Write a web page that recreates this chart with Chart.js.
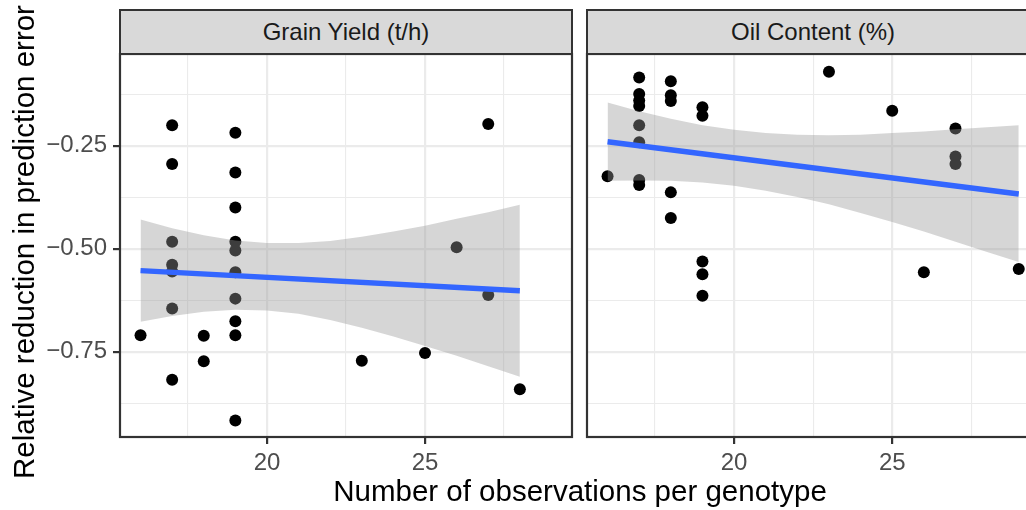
<!DOCTYPE html>
<html>
<head>
<meta charset="utf-8">
<script src="https://cdn.jsdelivr.net/npm/chart.js@4.4.0/dist/chart.umd.min.js"></script>
<style>
    html, body { margin: 0; padding: 0; background: #fff; overflow: hidden; }
    #wrap { position: relative; width: 1026px; height: 510px; overflow: hidden; font-family: 'Liberation Sans', Arial, sans-serif; }
    canvas { position: absolute; top: 0; }
    .strip { position: absolute; top: 9px; height: 46px; box-sizing: border-box; background: #d9d9d9; border: 2.2px solid #333; color: #1a1a1a; font-size: 24px; text-align: center; line-height: 41px; white-space: nowrap; }
    #xtitle { position: absolute; left: 0; width: 1160px; top: 474px; font-size: 29.5px; line-height: 34px; text-align: center; color: #000; white-space: nowrap; }
    #ytitle { position: absolute; left: 24px; top: 242px; width: 600px; margin-left: -300px; margin-top: -17px; height: 34px; line-height: 34px; font-size: 29.5px; text-align: center; color: #000; white-space: nowrap; transform: rotate(-90deg); }
</style>
</head>
<body>
<div id="wrap">
    <canvas id="grainChart" width="580" height="480" style="left:0"></canvas>
    <canvas id="oilChart" width="470" height="480" style="left:580px"></canvas>
    <div class="strip" id="strip0" style="left:119px; width:454px"></div>
    <div class="strip" id="strip1" style="left:586px; width:454px"></div>
    <div id="xtitle"></div>
    <div id="ytitle"></div>
</div>
<script>
// ============================================================================
// Data
// ============================================================================

const panelTitles = ['Grain Yield (t/h)', 'Oil Content (%)'];
const xTitle = 'Number of observations per genotype';
const yTitle = 'Relative reduction in prediction error';

// axis ticks
const xMajor = [20, 25];
const xMinor = [17.5, 22.5, 27.5];
const xTickLabels = ['20', '25'];
const yMajor = [-0.75, -0.5, -0.25];
const yMinor = [-0.875, -0.625, -0.375, -0.125];
const yTickLabels = ['\u22120.75', '\u22120.50', '\u22120.25'];

// Grain yield panel
const grainX = [17, 17, 17, 17, 17, 17, 17,
                19, 19, 19, 19, 19, 19, 19, 19, 19, 19,
                27, 27, 26, 16, 18, 18, 23, 25, 28];
const grainY = [-0.200, -0.294, -0.483, -0.539, -0.555, -0.645, -0.818,
                -0.218, -0.315, -0.400, -0.483, -0.504, -0.557, -0.621, -0.676, -0.710, -0.917,
                -0.197, -0.612, -0.496, -0.710, -0.711, -0.773, -0.772, -0.753, -0.841];
const grainBandX = [16, 17, 18, 19, 20, 21, 22, 23, 24, 25, 26, 27, 28];
const grainUpper = [-0.429, -0.450, -0.467, -0.480, -0.486, -0.486, -0.481, -0.471, -0.458, -0.444, -0.427, -0.411, -0.393];
const grainLower = [-0.677, -0.663, -0.653, -0.648, -0.650, -0.658, -0.673, -0.692, -0.713, -0.736, -0.760, -0.785, -0.811];
const grainFitX = [16, 28];
const grainFitY = [-0.553, -0.602];

// Oil content panel
const oilX = [16,
              17, 17, 17, 17, 17, 17, 17, 17,
              18, 18, 18, 18, 18,
              19, 19, 19, 19, 19,
              23, 25, 26, 27, 27, 27, 29];
const oilY = [-0.324,
              -0.084, -0.124, -0.140, -0.153, -0.200, -0.241, -0.333, -0.345,
              -0.093, -0.127, -0.141, -0.363, -0.425,
              -0.156, -0.177, -0.531, -0.562, -0.614,
              -0.070, -0.165, -0.557, -0.208, -0.276, -0.294, -0.549];
const oilBandX = [16, 17, 18, 19, 20, 21, 22, 23, 24, 25, 26, 27, 28, 29];
const oilUpper = [-0.145, -0.166, -0.184, -0.200, -0.211, -0.219, -0.223, -0.224, -0.223, -0.219, -0.215, -0.210, -0.205, -0.200];
const oilLower = [-0.335, -0.334, -0.335, -0.339, -0.347, -0.359, -0.374, -0.392, -0.413, -0.435, -0.458, -0.483, -0.508, -0.532];
const oilFitX = [16, 29];
const oilFitY = [-0.240, -0.367];

// ============================================================================
// Helpers
// ============================================================================

const FONT = "'Liberation Sans', Arial, sans-serif";
const toXY = (xs, ys) => xs.map((x, i) => ({ x: x, y: ys[i] }));

// ggplot-ish panel border
const panelBorder = {
    id: 'panelBorder',
    afterDraw(chart) {
        const { ctx, chartArea: a } = chart;
        ctx.save();
        ctx.strokeStyle = '#333333';
        ctx.lineWidth = 2.2;
        ctx.strokeRect(a.left, a.top, a.right - a.left, a.bottom - a.top);
        ctx.restore();
    }
};

function makePanel(canvasId, pts, bandX, upper, lower, fitX, fitY, showY, pad) {
    const xTicks = xMinor.concat(xMajor).sort((a, b) => a - b);
    const yTicks = yMinor.concat(yMajor).sort((a, b) => a - b);

    return new Chart(document.getElementById(canvasId), {
        type: 'scatter',
        data: {
            datasets: [
                {
                    type: 'scatter',
                    data: pts,
                    backgroundColor: '#000',
                    borderWidth: 0,
                    pointRadius: 6,
                    order: 3
                },
                {
                    type: 'line',
                    data: toXY(bandX, lower),
                    borderWidth: 0,
                    pointRadius: 0,
                    fill: false,
                    order: 2
                },
                {
                    type: 'line',
                    data: toXY(bandX, upper),
                    borderWidth: 0,
                    pointRadius: 0,
                    fill: '-1',
                    backgroundColor: 'rgba(153,153,153,0.4)',
                    order: 1
                },
                {
                    type: 'line',
                    data: toXY(fitX, fitY),
                    borderColor: '#3366FF',
                    borderWidth: 5.5,
                    pointRadius: 0,
                    fill: false,
                    order: 0
                }
            ]
        },
        options: {
            responsive: false,
            animation: false,
            events: [],
            layout: { padding: pad },
            plugins: { legend: { display: false }, tooltip: { enabled: false } },
            scales: {
                x: {
                    type: 'linear',
                    min: 15.35,
                    max: 29.65,
                    afterBuildTicks: (s) => { s.ticks = xTicks.map(v => ({ value: v })); },
                    afterFit: (s) => { s.height = 43; },
                    border: { display: false },
                    grid: {
                        color: '#EBEBEB',
                        lineWidth: (c) => xMajor.includes(c.tick.value) ? 2.2 : 1.1,
                        tickColor: (c) => xMajor.includes(c.tick.value) ? '#333333' : 'rgba(0,0,0,0)',
                        tickWidth: 2.2,
                        tickLength: 7
                    },
                    ticks: {
                        maxRotation: 0,
                        autoSkip: false,
                        padding: 5,
                        color: '#4D4D4D',
                        font: { family: FONT, size: 24 },
                        callback: (v) => {
                            const i = xMajor.indexOf(v);
                            return i >= 0 ? xTickLabels[i] : '';
                        }
                    }
                },
                y: {
                    type: 'linear',
                    min: -0.957,
                    max: -0.027,
                    afterBuildTicks: (s) => { s.ticks = yTicks.map(v => ({ value: v })); },
                    afterFit: (s) => { s.width = showY ? 120 : 0; },
                    border: { display: false },
                    grid: {
                        color: '#EBEBEB',
                        lineWidth: (c) => yMajor.includes(c.tick.value) ? 2.2 : 1.1,
                        tickColor: (c) => yMajor.includes(c.tick.value) ? '#333333' : 'rgba(0,0,0,0)',
                        tickWidth: 2.2,
                        tickLength: 7,
                        drawTicks: showY
                    },
                    ticks: {
                        display: showY,
                        autoSkip: false,
                        padding: 6,
                        color: '#4D4D4D',
                        font: { family: FONT, size: 24 },
                        callback: (v) => {
                            const i = yMajor.indexOf(v);
                            return i >= 0 ? yTickLabels[i] : '';
                        }
                    }
                }
            }
        },
        plugins: [panelBorder]
    });
}

// ============================================================================
// Build
// ============================================================================

document.getElementById('strip0').textContent = panelTitles[0];
document.getElementById('strip1').textContent = panelTitles[1];
document.getElementById('xtitle').textContent = xTitle;
document.getElementById('ytitle').textContent = yTitle;

makePanel('grainChart', toXY(grainX, grainY), grainBandX, grainUpper, grainLower,
          grainFitX, grainFitY, true, { left: 0, top: 54, right: 8, bottom: 0 });
makePanel('oilChart', toXY(oilX, oilY), oilBandX, oilUpper, oilLower,
          oilFitX, oilFitY, false, { left: 7, top: 54, right: 10.7, bottom: 0 });
</script>
</body>
</html>
